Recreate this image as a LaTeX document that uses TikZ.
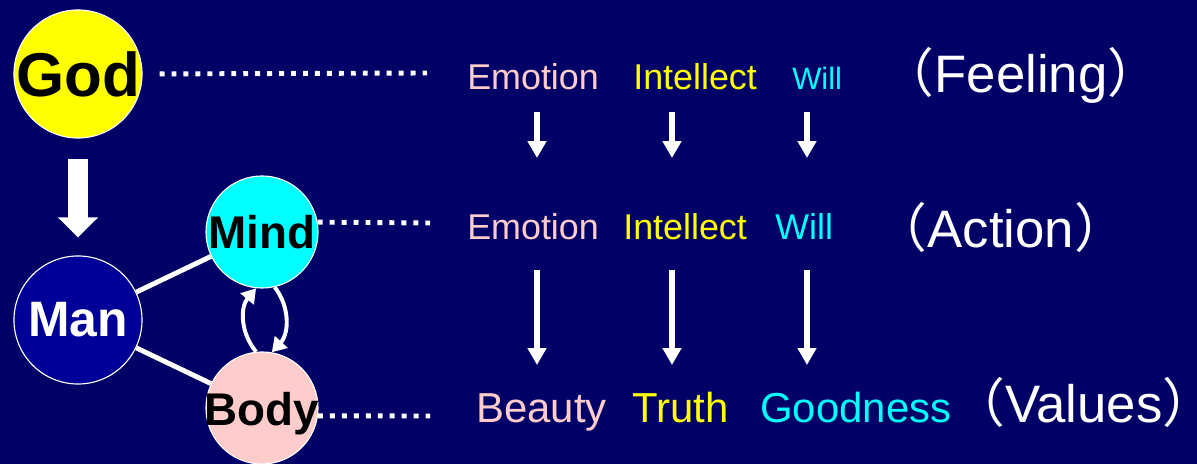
\documentclass[tikz,border=0pt]{standalone}
\usepackage{fontspec}
\setmainfont{Liberation Sans}
\newfontfamily\cjk{Noto Sans CJK JP}
\usepackage{xcolor}
\definecolor{navy}{HTML}{000066}
\definecolor{manb}{HTML}{000099}
\definecolor{pnk}{HTML}{FFCCCC}
\definecolor{ylw}{HTML}{FFFF00}
\definecolor{cyn}{HTML}{00FFFF}
\usetikzlibrary{arrows.meta,positioning,calc}
\newcommand{\fsz}[1]{\fontsize{#1}{#1}\selectfont}
\newcommand{\popen}{\kern-0.5em{\cjk （}}
\newcommand{\pclose}{{\cjk ）}\kern-0.5em}
\tikzset{
  ball/.style={circle,draw=white,line width=0.8pt,inner sep=0pt},
  bigball/.style={ball,minimum size=3.2cm},
  smallball/.style={ball,minimum size=2.8cm},
  ctxt/.style={font=\fsz{32.6pt}\bfseries,text=black,inner sep=0pt},
  word/.style={inner sep=0pt,anchor=base west,font=\fsz{25.5pt}},
  vword/.style={word,font=\fsz{29.8pt}},
  tag/.style={inner sep=0pt,anchor=base,text=white,font=\fsz{37.5pt}},
  dotline/.style={white,line width=3.5pt,dash pattern=on 3.5pt off 5pt},
  link/.style={white,line width=3.5pt},
  bigarr/.style={-{Triangle[length=14.2pt,width=27.7pt]},white,line width=14.9pt},
  sarr/.style={-{Triangle[length=12pt,width=12.8pt]},white,line width=4pt},
  cyc/.style={-{Triangle[length=10pt,width=12pt]},white,line width=2.8pt},
}
\begin{document}
\begin{tikzpicture}[x=0.025cm,y=0.025cm]
\fill[navy] (0,0) rectangle (1197,464);
\useasboundingbox (0,0) rectangle (1197,464);

\node[bigball,fill=ylw,label={[ctxt,font=\fsz{44pt}\bfseries]center:God}] (god) at (78,390) {};
\node[bigball,fill=manb,label={[ctxt,text=white,font=\fsz{35.4pt}\bfseries]center:Man}] (man) at (78,144) {};
\node[smallball,fill=cyn,label={[ctxt]center:Mind}] (mind) at (262,232) {};
\node[smallball,fill=pnk,label={[ctxt,yshift=-4pt]center:Body}] (body) at (262,56) {};

\draw[bigarr,shorten <=0.5cm,shorten >=0.45cm] (god) -- (man);
\draw[link] (man) -- (mind);
\draw[link] (man) -- (body);
\draw[cyc] (body.96) to[bend left=40] (mind.-96);
\draw[cyc] (mind.-77) to[bend left=40] (body.80);

\coordinate (gd) at (427,391);
\coordinate (md) at (430,241);
\coordinate (bd) at (430,48);
\draw[dotline,shorten <=0.425cm] (god.east) -- (gd);
\draw[dotline] (mind.10) -- (md);
\draw[dotline] (body.-8) -- (bd);

\node[word,text=pnk] (emo1) at (467,374) {Emotion};
\node[word,text=ylw] (int1) at (633,374) {Intellect};
\node[word,text=cyn,font=\fsz{22pt}] (will1) at (792,374) {Will};
\node[tag] (feel) at (1021,371) {\popen Feeling\pclose};

\node[word,text=pnk] (emo2) at (467,224) {Emotion};
\node[word,text=ylw] (int2) at (623,224) {Intellect};
\node[word,text=cyn] (will2) at (775,224) {Will};
\node[tag] (act) at (1001,216) {\popen Action\pclose};

\node[vword,text=pnk] (beau) at (476,41) {Beauty};
\node[vword,text=ylw] (truth) at (632,41) {Truth};
\node[vword,text=cyn] (good) at (760,41) {Goodness};
\node[tag] (vals) at (1084,41) {\popen Values\pclose};

\foreach \n/\x in {a/537,b/672,c/807}{
  \coordinate (\n1) at (\x,352); \coordinate (\n2) at (\x,306);
  \coordinate (\n3) at (\x,194); \coordinate (\n4) at (\x,99);
  \draw[sarr] (\n1) -- (\n2);
  \draw[sarr] (\n3) -- (\n4);}
\end{tikzpicture}
\end{document}
